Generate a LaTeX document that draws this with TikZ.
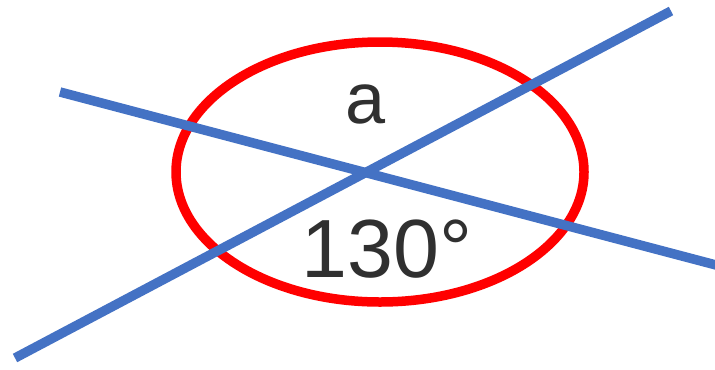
\documentclass[tikz,border=0pt]{standalone}
\usepackage{fontspec}
\setmainfont{Liberation Sans}
\usepackage{xcolor}
\usepackage{tikz}
\definecolor{lineblue}{HTML}{4472C4}
\definecolor{textgray}{HTML}{303030}

\begin{document}
\begin{tikzpicture}[
  x=0.02cm, y=-0.02cm,
  ring/.style={draw=red, line width=0.19cm},
  ray/.style={draw=lineblue, line width=0.19cm},
  lbl/.style={text=textgray, anchor=base, inner sep=0pt}
]
  \useasboundingbox (0,0) rectangle (715,369);
  \draw[ring] (380,172) ellipse [x radius=204, y radius=130];

  \coordinate (l1a) at (60,92);
  \coordinate (l1b) at (716,265);
  \coordinate (l2a) at (15,358);
  \coordinate (l2b) at (671,11);
  \draw[ray] (l1a) -- (l1b);
  \draw[ray] (l2a) -- (l2b);

  \node[lbl, font=\fontsize{41}{42}\selectfont] (lbla) at (366,123) {a};
  \node[lbl, font=\fontsize{47}{48}\selectfont] (ang) at (387,277) {130°};
\end{tikzpicture}
\end{document}
